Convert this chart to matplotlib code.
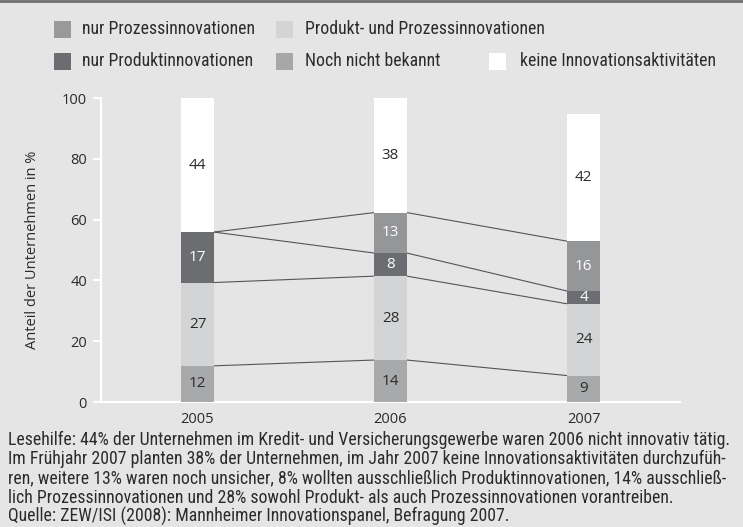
"""Innovationsaktivitäten im Kredit- und Versicherungsgewerbe, 2005-2007 (ZEW/ISI)."""
import matplotlib
matplotlib.use("Agg")
import matplotlib.pyplot as plt
from matplotlib import font_manager
from matplotlib.patches import Rectangle
from matplotlib.lines import Line2D
import numpy as np

# ---------- data ----------
years = ["2005", "2006", "2007"]
series = ["nur Prozessinnovationen", "Produkt- und Prozessinnovationen",
          "nur Produktinnovationen", "Noch nicht bekannt",
          "keine Innovationsaktivitäten"]
nur_prozess = [11.9, 13.8, 8.7]
produkt_prozess = [27.4, 27.6, 23.6]
nur_produkt = [16.6, 7.6, 4.2]
unbekannt = [0.0, 13.3, 16.4]
keine = [44.1, 37.7, 41.8]

notes = [
    "Lesehilfe: 44% der Unternehmen im Kredit- und Versicherungsgewerbe waren 2006 nicht innovativ tätig.",
    "Im Frühjahr 2007 planten 38% der Unternehmen, im Jahr 2007 keine Innovationsaktivitäten durchzufüh-",
    "ren, weitere 13% waren noch unsicher, 8% wollten ausschließlich Produktinnovationen, 14% ausschließ-",
    "lich Prozessinnovationen und 28% sowohl Produkt- als auch Prozessinnovationen vorantreiben.",
    "Quelle: ZEW/ISI (2008): Mannheimer Innovationspanel, Befragung 2007.",
]

BG = "#e5e5e5"
bar_colors = ["#a8a9ab", "#d3d4d6", "#6c6d70", "#959698", "#ffffff"]
legend_colors = ["#98999b", "#d3d4d6", "#6c6d70", "#a6a7a9", "#ffffff"]
label_colors = ["#2b2b2b", "#2b2b2b", "white", "white", "#2b2b2b"]

names = {f.name for f in font_manager.fontManager.ttflist}
NARROW = next((n for n in ["Liberation Sans Narrow", "Roboto Condensed",
                           "Open Sans Condensed"] if n in names), None)
if NARROW:
    narrow_kw = dict(family=NARROW, size=12.75)
else:
    narrow_kw = dict(family="Roboto", size=11)
plt.rcParams["font.family"] = ["Open Sans", "DejaVu Sans"]

W, H = 743, 527
fig = plt.figure(figsize=(W / 100, H / 100), dpi=100, facecolor=BG)
ax = fig.add_axes([101 / W, 125 / H, (680 - 101) / W, 304 / H])
ax.set_facecolor("none")

data = np.array([nur_prozess, produkt_prozess, nur_produkt, unbekannt, keine])
x = np.arange(len(years))
bw = 0.17
bottom = np.zeros(len(years))
tops = []
for k, vals in enumerate(data):
    ax.bar(x, vals, bw, bottom=bottom, color=bar_colors[k], linewidth=0,
           zorder=3)
    for xi, b, v in zip(x, bottom, vals):
        if v > 0:
            ax.text(xi, b + v / 2, f"{v:.0f}", ha="center", va="center",
                    fontsize=11, color=label_colors[k], zorder=4)
    bottom = bottom + vals
    tops.append(bottom.copy())

# connector lines between segment tops of neighbouring bars
for k in range(4):
    for i in range(len(years) - 1):
        ax.plot([x[i] + bw / 2, x[i + 1] - bw / 2], [tops[k][i], tops[k][i + 1]],
                color="#555555", lw=0.8, zorder=2)

ax.set_xlim(-0.5, 2.5)
ax.set_ylim(0, 100)
ax.set_xticks(x)
ax.set_xticklabels(years)
ax.set_yticks(np.arange(0, 101, 20))
ax.tick_params(axis="x", length=0, pad=7, labelsize=10.5, labelcolor="#2b2b2b")
ax.tick_params(axis="y", length=6, width=1.5, color="white", pad=4,
               labelsize=10.5, labelcolor="#2b2b2b")
for s in ["top", "right"]:
    ax.spines[s].set_visible(False)
for s in ["left", "bottom"]:
    ax.spines[s].set_color("white")
    ax.spines[s].set_linewidth(1.5)
ax.set_ylabel("Anteil der Unternehmen in %", fontsize=10.5, color="#2b2b2b",
              labelpad=16)

# ---------- legend (hand placed, as in the original layout) ----------
leg_slots = [(0, 0), (1, 0), (0, 1), (1, 1), (2, 1)]
sw_x = [54, 276, 489]
tx_x = [82, 305, 520]
row_y = [29.2, 61.3]
for k, (c, r) in enumerate(leg_slots):
    yc = row_y[r]
    fig.add_artist(Rectangle((sw_x[c] / W, 1 - (yc + 8.5) / H), 17 / W, 17 / H,
                             transform=fig.transFigure,
                             facecolor=legend_colors[k], edgecolor="none"))
    fig.text(tx_x[c] / W, 1 - yc / H, series[k], ha="left", va="center",
             color="#2b2b2b", **narrow_kw)

# top rule
fig.add_artist(Line2D([0, 1], [1 - 1.2 / H, 1 - 1.2 / H],
                      transform=fig.transFigure, color="#707070", lw=2))

# ---------- reading aid / source ----------
for i, line in enumerate(notes):
    fig.text(8 / W, 1 - (445 + i * 19.3) / H, line, ha="left", va="baseline",
             color="#2b2b2b", **narrow_kw)

fig.savefig("out.png", dpi=100, facecolor=BG)
